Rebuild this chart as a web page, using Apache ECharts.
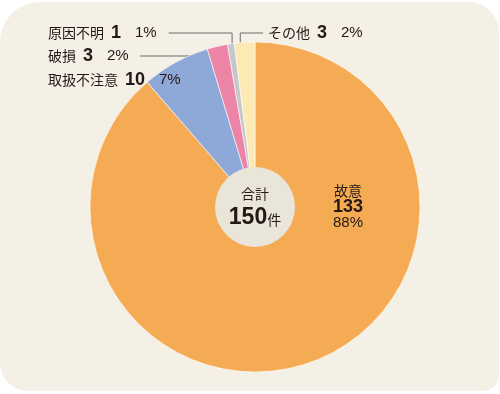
<!DOCTYPE html>
<html><head><meta charset="utf-8">
<script src="https://cdn.jsdelivr.net/npm/echarts@6/dist/echarts.min.js"></script>
<style>html,body{margin:0;background:#fff}#c{width:500px;height:394px}</style>
</head><body><div id="c"></div>
<script>
// ---- data ----
const categories = ['故意', '取扱不注意', '破損', '原因不明', 'その他'];
const counts = [133, 10, 3, 1, 3];
const percents = ['88%', '7%', '2%', '1%', '2%'];
const totalLabel = '合計';
const totalCount = 150;
const totalUnit = '件';

// ---- style / layout ----
const colors = ['#f5ab53', '#8ea8d8', '#ec84a6', '#c6c7c9', '#fde9b3'];
const CX = 255, CY = 207, R = 165;
const JP = '"Noto Sans CJK JP", sans-serif';
const LAT = '"Liberation Sans", Arial, sans-serif';
const TXT = '#231815';
const sum = counts.reduce((a, b) => a + b, 0);

const labelPlace = [
  { x: 348, y: 207, align: 'center' },
  { x: 48, y: 80, align: 'left' },
  { x: 48, y: 56, align: 'left', line: 'h', frac: 0.5, rr: 0.92 },
  { x: 48, y: 33, align: 'left', line: 'hv', frac: 0.5, rr: 0.95 },
  { x: 268, y: 33, align: 'left', line: 'hvR', frac: 0.25, rr: 0.95 }
];

function pointIn(i, frac, rr) {
  let before = 0;
  for (let k = 0; k < i; k++) before += counts[k];
  const f = (before + counts[i] * frac) / sum;
  const a = f * 2 * Math.PI;
  return [CX + rr * R * Math.sin(a), CY - rr * R * Math.cos(a)];
}

const rich = {
  n: { fontFamily: JP, fontSize: 14, color: TXT },
  v: { fontFamily: LAT, fontSize: 18, fontWeight: 'bold', color: TXT, padding: [0, 0, 0, 7] },
  p: { fontFamily: LAT, fontSize: 15, color: TXT, padding: [0, 0, 0, 14] },
  cn: { fontFamily: JP, fontSize: 14, color: TXT, lineHeight: 16, align: 'center' },
  cv: { fontFamily: LAT, fontSize: 18, fontWeight: 'bold', color: TXT, lineHeight: 16, align: 'center' },
  cp: { fontFamily: LAT, fontSize: 15, color: TXT, lineHeight: 16, align: 'center' }
};

const pieData = categories.map((c, i) => ({
  name: c,
  value: counts[i],
  itemStyle: { color: colors[i] },
  labelLine: { show: !!labelPlace[i].line }
}));

const chart = echarts.init(document.getElementById('c'), null, { renderer: 'canvas' });
chart.setOption({
  animation: false,
  backgroundColor: '#ffffff',
  graphic: [{
    type: 'rect', z: -10, silent: true,
    shape: { x: 0, y: 2, width: 499, height: 389, r: [40, 30, 16, 28] },
    style: { fill: '#f4f0e6' }
  }],
  series: [{
    type: 'pie',
    center: [CX, CY],
    radius: [0, R],
    startAngle: 90,
    clockwise: true,
    avoidLabelOverlap: false,
    itemStyle: { borderColor: '#ffffff', borderWidth: 0.6 },
    label: {
      show: true,
      position: 'outside',
      formatter: function (p) {
        const i = p.dataIndex;
        if (i === 0) return '{cn|' + categories[i] + '}\n{cv|' + counts[i] + '}\n{cp|' + percents[i] + '}';
        return '{n|' + categories[i] + '}{v|' + counts[i] + '}{p|' + percents[i] + '}';
      },
      rich: rich
    },
    labelLine: { show: true, lineStyle: { color: '#6b6b6b', width: 1 } },
    labelLayout: function (params) {
      const i = params.dataIndex;
      const L = labelPlace[i];
      const w = params.labelRect.width;
      const out = { x: L.x, y: L.y, align: L.align, verticalAlign: 'middle' };
      if (L.line) {
        const a = pointIn(i, L.frac, L.rr);
        if (L.line === 'h') {
          out.labelLinePoints = [[L.x + w + 11, L.y], [a[0], L.y], [a[0], L.y]];
        } else if (L.line === 'hv') {
          out.labelLinePoints = [[L.x + w + 12, L.y], [a[0], L.y], a];
        } else {
          out.labelLinePoints = [[L.x - 5, L.y], [a[0], L.y], a];
        }
      }
      return out;
    },
    data: pieData
  }, {
    type: 'pie',
    center: [CX, CY],
    radius: [0, 40],
    silent: true,
    itemStyle: { color: '#e9e5d8' },
    label: {
      show: true,
      position: 'center',
      formatter: '{a|' + totalLabel + '}\n{b|' + totalCount + '}{c|' + totalUnit + '}',
      rich: {
        a: { fontFamily: JP, fontSize: 14, color: TXT, lineHeight: 22, align: 'center' },
        b: { fontFamily: LAT, fontSize: 23, fontWeight: 'bold', color: TXT, lineHeight: 26, letterSpacing: -1 },
        c: { fontFamily: JP, fontSize: 14, color: TXT, lineHeight: 26, padding: [4, 0, 0, 0] }
      }
    },
    labelLine: { show: false },
    data: [{ value: totalCount, name: totalLabel }]
  }]
});
</script>
</body></html>
